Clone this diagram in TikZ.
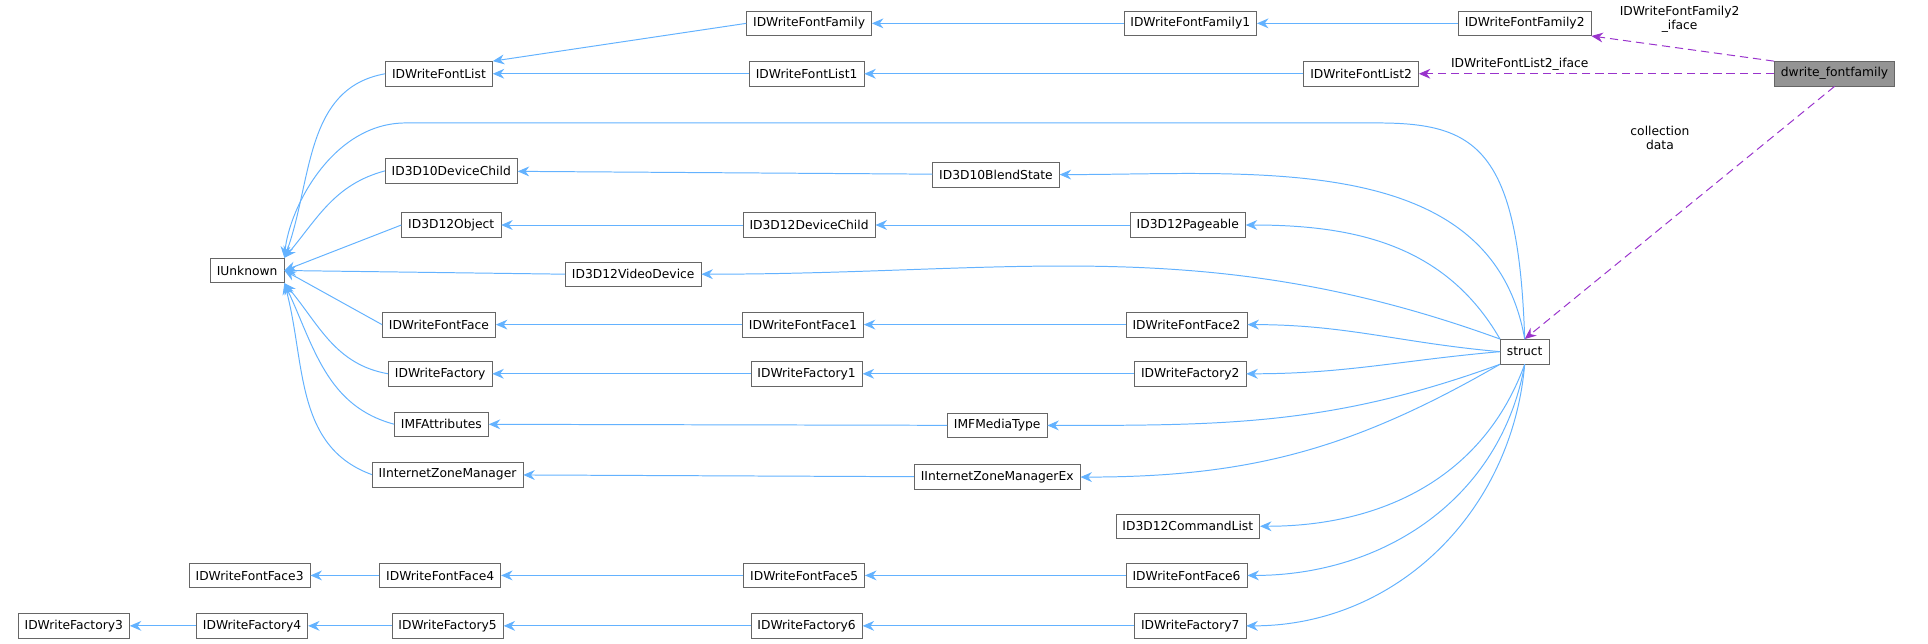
\documentclass[tikz,border=0pt]{standalone}
\usepackage{fontspec}
\setmainfont{DejaVu Sans}
\usetikzlibrary{arrows.meta}
\definecolor{edgeblue}{RGB}{99,178,255}
\definecolor{edgepurple}{RGB}{153,51,204}
\definecolor{boxgray}{RGB}{102,102,102}

\begin{document}
\begin{tikzpicture}[x=0.75pt, y=0.75pt,
    cls/.style={draw=boxgray, fill=white, font=\fontsize{7.5}{9}\selectfont, minimum height=15pt, inner xsep=4pt, inner ysep=1pt},
    inh/.style={color=edgeblue, line width=0.6pt, -{Stealth[length=7pt,width=6pt]}},
    use/.style={color=edgepurple, line width=0.6pt, dashed, dash pattern=on 5pt off 3pt, -{Stealth[length=7pt,width=6pt]}},
    lbl/.style={font=\fontsize{7.5}{8.5}\selectfont, align=center}]
    \useasboundingbox (0,0) rectangle (1568,-523);
    % top rows
    \node[cls, fill=boxgray!70] (dff) at (1492,-60) {dwrite\_fontfamily};
    \node[cls] (ffam2) at (1240,-19) {IDWriteFontFamily2};
    \node[cls] (flist2) at (1107,-60) {IDWriteFontList2};
    \node[cls] (st) at (1240,-286) {struct};
    \node[cls] (ffam1) at (968,-19) {IDWriteFontFamily1};
    \node[cls] (ffam) at (658,-19) {IDWriteFontFamily};
    \node[cls] (flist) at (357,-60) {IDWriteFontList};
    \node[cls] (flist1) at (656,-60) {IDWriteFontList1};
    % middle rows
    \node[cls] (d10dc) at (367,-139) {ID3D10DeviceChild};
    \node[cls] (d10bs) at (810,-142) {ID3D10BlendState};
    \node[cls] (d12obj) at (367,-183) {ID3D12Object};
    \node[cls] (d12dc) at (658,-183) {ID3D12DeviceChild};
    \node[cls] (d12pg) at (966,-183) {ID3D12Pageable};
    \node[cls] (iunk) at (201,-220) {IUnknown};
    \node[cls] (d12vd) at (515,-223) {ID3D12VideoDevice};
    \node[cls] (fface) at (357,-264) {IDWriteFontFace};
    \node[cls] (fface1) at (653,-264) {IDWriteFontFace1};
    \node[cls] (fface2) at (965,-264) {IDWriteFontFace2};
    \node[cls] (fact) at (358,-304) {IDWriteFactory};
    \node[cls] (fact1) at (656,-304) {IDWriteFactory1};
    \node[cls] (fact2) at (968,-304) {IDWriteFactory2};
    \node[cls] (mfattr) at (359,-345) {IMFAttributes};
    \node[cls] (mftype) at (811,-346) {IMFMediaType};
    \node[cls] (izm) at (364,-386) {IInternetZoneManager};
    \node[cls] (izmex) at (811,-388) {IInternetZoneManagerEx};
    % bottom rows
    \node[cls] (d12cl) at (966,-428) {ID3D12CommandList};
    \node[cls] (fface3) at (203,-468) {IDWriteFontFace3};
    \node[cls] (fface4) at (358,-468) {IDWriteFontFace4};
    \node[cls] (fface5) at (654,-468) {IDWriteFontFace5};
    \node[cls] (fface6) at (965,-468) {IDWriteFontFace6};
    \node[cls] (fact3) at (60,-509) {IDWriteFactory3};
    \node[cls] (fact4) at (205,-509) {IDWriteFactory4};
    \node[cls] (fact5) at (364,-509) {IDWriteFactory5};
    \node[cls] (fact6) at (656,-509) {IDWriteFactory6};
    \node[cls] (fact7) at (968,-509) {IDWriteFactory7};

    % dwrite_fontfamily members
    \draw[use] (dff.north west) -- (ffam2.south east);
    \draw[use] (dff) -- (flist2);
    \draw[use] (dff.south) -- (st.north);
    \node[lbl] at (1366,-16) {IDWriteFontFamily2\\\_iface};
    \node[lbl] at (1236,-52) {IDWriteFontList2\_iface};
    \node[lbl] at (1350,-112) {collection\\data};

    % straight chains
    \draw[inh] (ffam2) -- (ffam1);
    \draw[inh] (ffam1) -- (ffam);
    \draw[inh] (ffam.west) -- (flist.north east);
    \draw[inh] (flist2) -- (flist1);
    \draw[inh] (flist1) -- (flist);
    \draw[inh] (d10bs) -- (d10dc);
    \draw[inh] (d12pg) -- (d12dc);
    \draw[inh] (d12dc) -- (d12obj);
    \draw[inh] (fface2) -- (fface1);
    \draw[inh] (fface1) -- (fface);
    \draw[inh] (fact2) -- (fact1);
    \draw[inh] (fact1) -- (fact);
    \draw[inh] (mftype) -- (mfattr);
    \draw[inh] (izmex) -- (izm);
    \draw[inh] (fface6) -- (fface5);
    \draw[inh] (fface5) -- (fface4);
    \draw[inh] (fface4) -- (fface3);
    \draw[inh] (fact7) -- (fact6);
    \draw[inh] (fact6) -- (fact5);
    \draw[inh] (fact5) -- (fact4);
    \draw[inh] (fact4) -- (fact3);

    % IUnknown fan
    \draw[inh] (flist.west) to[out=190, in=70] (iunk.north east);
    \draw[inh] (d10dc.west) to[out=195, in=50] (iunk.north east);
    \draw[inh] (d12obj.west) -- (iunk.east);
    \draw[inh] (d12vd.west) -- (iunk.east);
    \draw[inh] (fface.west) -- (iunk.east);
    \draw[inh] (fact.west) to[out=170, in=-50] (iunk.south east);
    \draw[inh] (mfattr.west) to[out=165, in=-65] (iunk.south east);
    \draw[inh] (izm.west) to[out=160, in=-75] (iunk.south east);

    % struct fan
    \draw[inh] (st.north) .. controls (1235,-120) and (1200,-100) .. (1120,-100)
        -- (330,-100) .. controls (270,-100) and (235,-170) .. (iunk.north east);
    \draw[inh] (st.north) to[out=100, in=0] (d10bs.east);
    \draw[inh] (st.north west) to[out=120, in=0] (d12pg.east);
    \draw[inh] (st.north west) to[out=160, in=0] (d12vd.east);
    \draw[inh] (st.west) to[out=175, in=0] (fface2.east);
    \draw[inh] (st.west) to[out=185, in=0] (fact2.east);
    \draw[inh] (st.south west) to[out=200, in=0] (mftype.east);
    \draw[inh] (st.south west) to[out=210, in=0] (izmex.east);
    \draw[inh] (st.south) to[out=250, in=0] (d12cl.east);
    \draw[inh] (st.south) to[out=260, in=0] (fface6.east);
    \draw[inh] (st.south) to[out=265, in=0] (fact7.east);
\end{tikzpicture}
\end{document}
